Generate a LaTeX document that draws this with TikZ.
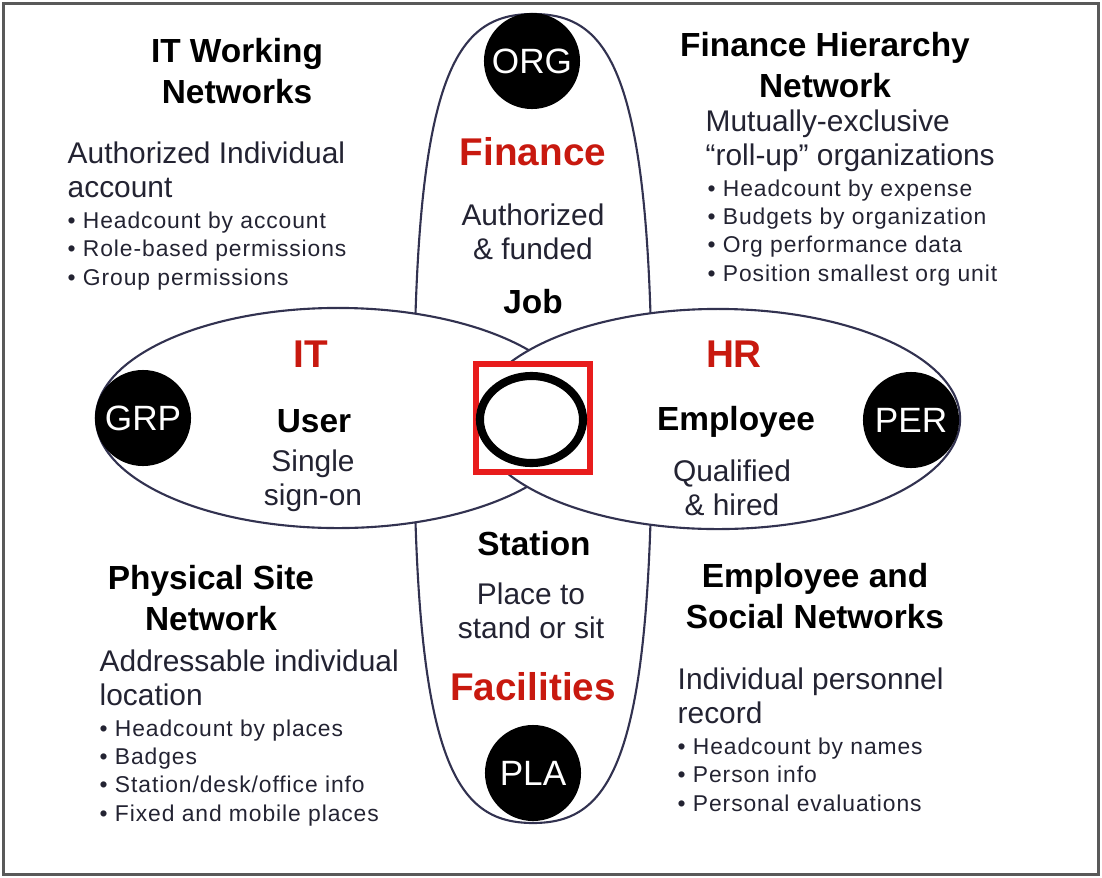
\documentclass[tikz,border=0pt]{standalone}
\usepackage{fontspec}
\setmainfont{Liberation Sans}
\newfontfamily\listfont[LetterSpace=4]{Liberation Sans}

\definecolor{ink}{RGB}{35,35,50}
\definecolor{edge}{RGB}{50,50,80}
\definecolor{accent}{RGB}{200,25,15}
\definecolor{hubred}{RGB}{232,28,28}

\begin{document}
\begin{tikzpicture}[x=0.01cm, y=-0.01cm,
		petal/.style={draw=edge, fill=white, line width=0.6pt},
		tag/.style={circle, fill=black, minimum size=0.96cm, inner sep=0pt, text=white, font=\fontsize{10}{12}\selectfont},
		title/.style={font=\fontsize{9.5}{11.4}\selectfont\bfseries, align=center, anchor=base, inner sep=0pt},
		desc/.style={font=\fontsize{8.5}{9.6}\selectfont, align=left, anchor=base west, text=ink, inner sep=0pt},
		bullets/.style={font=\listfont\fontsize{6.5}{8.05}\selectfont, align=left, anchor=base west, text=ink, inner sep=0pt},
		area/.style={font=\fontsize{11}{13}\selectfont\bfseries, text=accent, anchor=base, inner sep=0pt},
		role/.style={font=\fontsize{9.5}{11}\selectfont\bfseries, anchor=base, inner sep=0pt},
		note/.style={font=\fontsize{8.5}{9.6}\selectfont, align=center, anchor=base, text=ink, inner sep=0pt}]

	\useasboundingbox (0,0) rectangle (1102,878);
	\draw[line width=0.85pt, draw=black!65] (3.5,3.5) rectangle (1098.5,874.5);

	% Petali: verticale sotto, poi sinistro e destro
	\draw[petal] (533,14) .. controls (611,14) and (652,74) .. (652,418)
		.. controls (652,762) and (611,823) .. (533,823)
		.. controls (455,823) and (414,762) .. (414,418)
		.. controls (414,74) and (455,14) .. cycle;
	\draw[petal] (338,418) ellipse [x radius=2.42cm, y radius=1.1cm];
	\draw[petal] (718,419) ellipse [x radius=2.42cm, y radius=1.1cm];

	% Centro
	\node[draw=hubred, fill=white, line width=1.7pt, minimum width=1.14cm, minimum height=1.08cm, inner sep=0pt] (hub) at (533,418) {};
	\draw[line width=2.3pt] (531.5,419.5) ellipse [x radius=0.515cm, y radius=0.435cm];

	% Cerchi neri
	\node[tag] (org) at (532,61) {ORG};
	\node[tag] (grp) at (143,418) {GRP};
	\node[tag] (per) at (911,420) {PER};
	\node[tag] (pla) at (533,773) {PLA};

	% Etichette dei petali (base = ultima riga)
	\node[area] (fin) at (533,165) {Finance};
	\node[note] (findsc) at (533,259) {Authorized\\\& funded};
	\node[role] (job) at (533,313) {Job};
	\node[area] (it) at (311,367) {IT};
	\node[role] (user) at (314,432) {User};
	\node[note] (userdsc) at (313,505) {Single\\sign-on};
	\node[area] (hr) at (734,367) {HR};
	\node[role] (empl) at (736,430) {Employee};
	\node[note] (empldsc) at (732,515) {Qualified\\\& hired};
	\node[role] (stat) at (534,555) {Station};
	\node[note] (statdsc) at (531,638) {Place to\\stand or sit};
	\node[area] (fac) at (533,700) {Facilities};

	% Riquadri negli angoli
	\node[title] (itnet) at (237,103) {IT Working\\Networks};
	\node[desc] (itdesc) at (67,197) {Authorized Individual\\account};
	\node[bullets] (itlist) at (67,285) {\textbullet\ Headcount by account\\\textbullet\ Role-based permissions\\\textbullet\ Group permissions};

	\node[title] (finnet) at (825,97) {Finance Hierarchy\\Network};
	\node[desc] (findesc) at (705,165) {Mutually-exclusive\\“roll-up” organizations};
	\node[bullets] (finlist) at (707,281) {\textbullet\ Headcount by expense\\\textbullet\ Budgets by organization\\\textbullet\ Org performance data\\\textbullet\ Position smallest org unit};

	\node[title] (sitenet) at (211,630) {Physical Site\\Network};
	\node[desc] (sitedesc) at (99,705) {Addressable individual\\location};
	\node[bullets] (sitelist) at (99,821) {\textbullet\ Headcount by places\\\textbullet\ Badges\\\textbullet\ Station/desk/office info\\\textbullet\ Fixed and mobile places};

	\node[title] (socnet) at (815,628) {Employee and\\Social Networks};
	\node[desc] (socdesc) at (677,723) {Individual personnel\\record};
	\node[bullets] (soclist) at (677,811) {\textbullet\ Headcount by names\\\textbullet\ Person info\\\textbullet\ Personal evaluations};

\end{tikzpicture}
\end{document}
